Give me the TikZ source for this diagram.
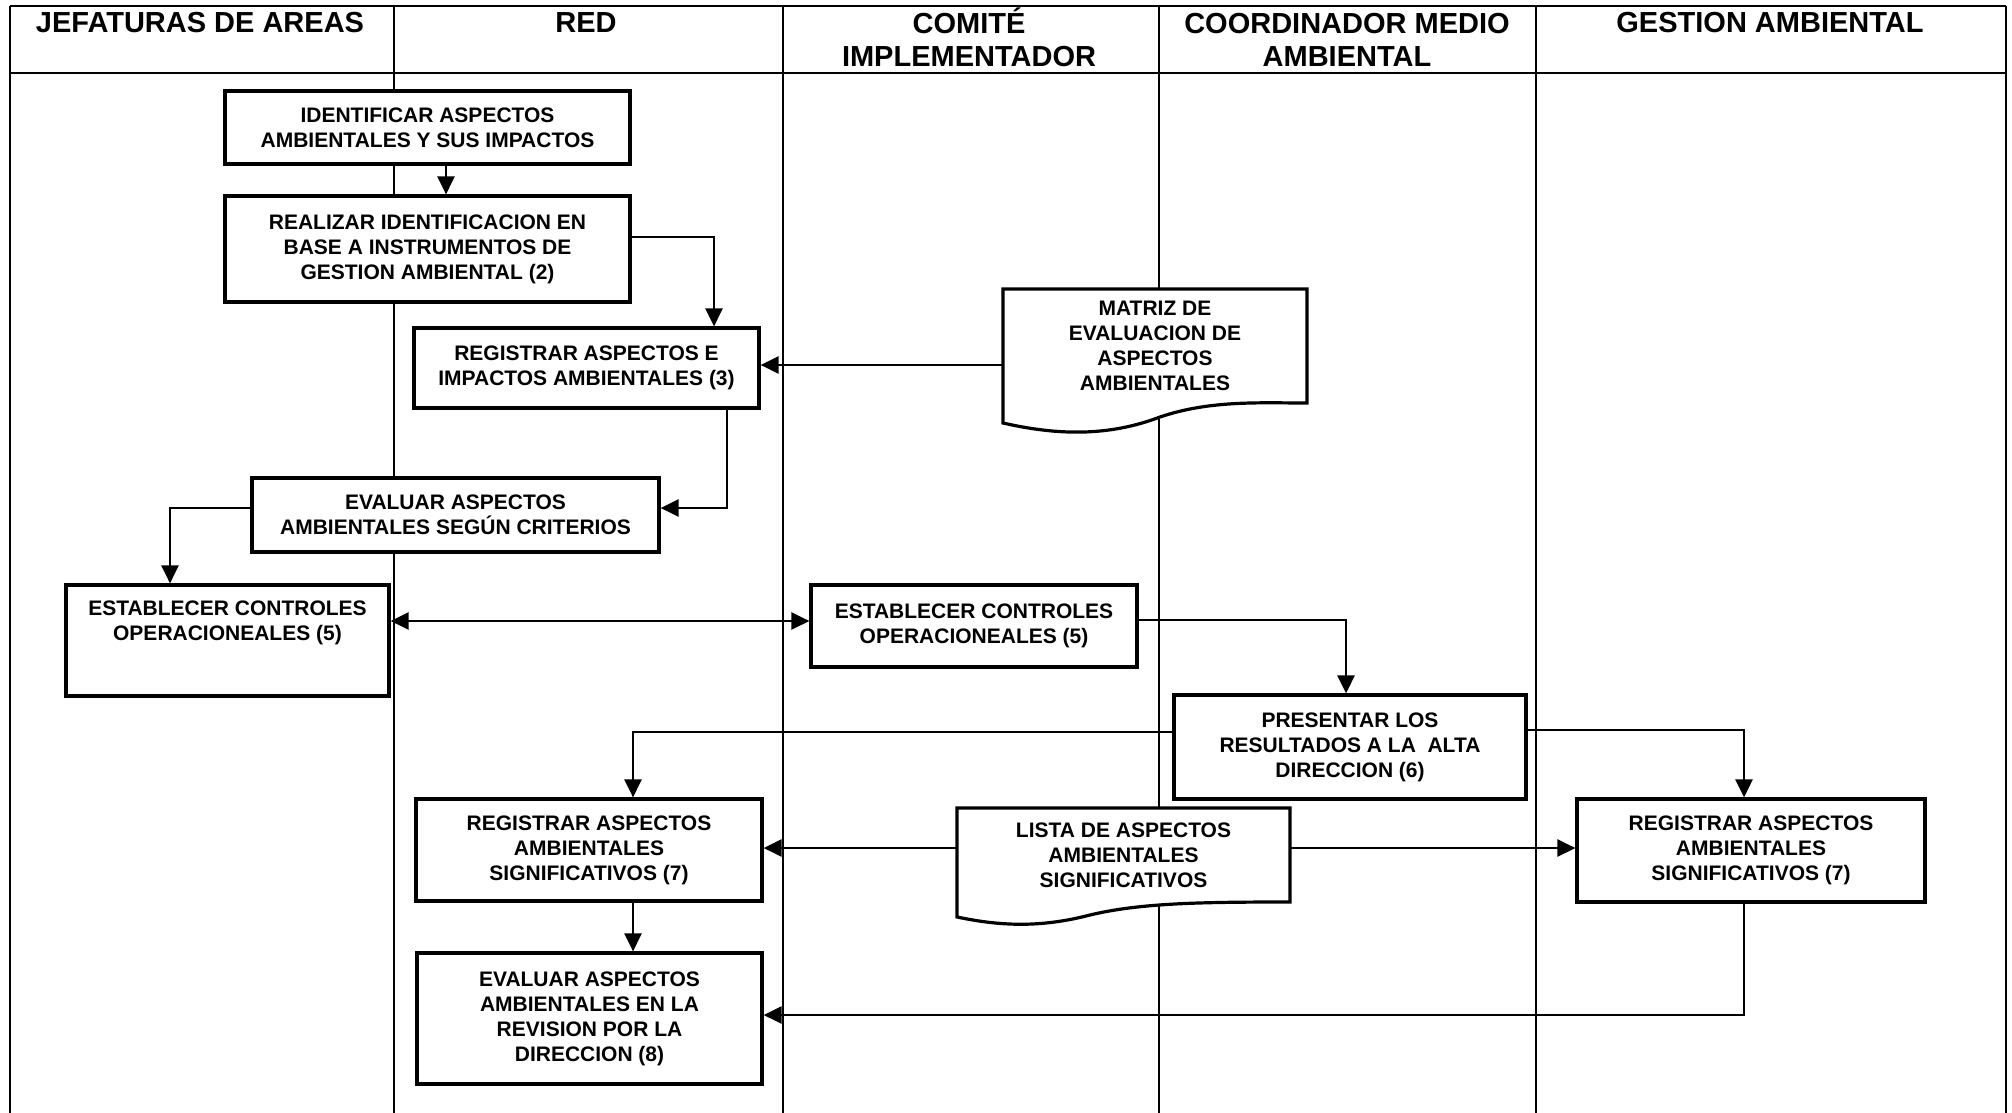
\documentclass[tikz,border=0pt]{standalone}
\usepackage{fontspec}
\setmainfont{Liberation Sans}
\newcommand\boxfont{\fontsize{21}{25}\selectfont\bfseries}
\newcommand\hdrfont{\fontsize{29}{33.3}\selectfont\bfseries}
\usetikzlibrary{arrows.meta,calc}
\begin{document}
\begin{tikzpicture}[x=1pt,y=-1pt,
  lane/.style={line width=1.7pt},
  rule/.style={line width=2.8pt},
  hdr/.style={font=\hdrfont, align=center, inner sep=0pt},
  proc/.style={draw, line width=3.2pt, fill=white, inner sep=0pt, align=center, font=\boxfont},
  doctxt/.style={inner sep=0pt, align=center, font=\boxfont},
  docshape/.style={draw, line width=3.2pt, fill=white},
  arr/.style={line width=2.7pt, -{Triangle[length=18pt,width=17pt]}},
  dbl/.style={line width=2.7pt, {Triangle[length=18pt,width=17pt]}-{Triangle[length=18pt,width=17pt]}},
]
\useasboundingbox (0,0) rectangle (2012,1113);

% swimlane grid
\draw[rule] (10,6) -- (2006,6);
\draw[rule] (10,73) -- (2006,73);
\foreach \lx in {10,394,783,1159,1536,2006}
  \draw[lane] (\lx,6) -- (\lx,1113);

% lane headings (anchored on the baseline of their last line)
\node[hdr, anchor=base] (h1) at (200,33) {JEFATURAS DE AREAS};
\node[hdr, anchor=base] (h2) at (586,33) {RED};
\node[hdr, anchor=base] (h3) at (969,66.7) {COMITÉ\\IMPLEMENTADOR};
\node[hdr, anchor=base] (h4) at (1347,66.7) {COORDINADOR MEDIO\\AMBIENTAL};
\node[hdr, anchor=base] (h5) at (1770,33) {GESTION AMBIENTAL};

% process boxes
\node[proc, minimum width=405pt, minimum height=73pt] (ident) at (427.5,127.5)
  {IDENTIFICAR ASPECTOS\\AMBIENTALES Y SUS IMPACTOS};
\node[proc, minimum width=405pt, minimum height=106pt] (realizar) at (427.5,249)
  {REALIZAR IDENTIFICACION EN\\BASE A INSTRUMENTOS DE\\GESTION AMBIENTAL (2)};
\node[proc, minimum width=345pt, minimum height=80pt] (reg3) at (586.5,368)
  {REGISTRAR ASPECTOS E\\IMPACTOS AMBIENTALES (3)};
\node[proc, minimum width=407pt, minimum height=74pt] (eval) at (455.5,515)
  {EVALUAR ASPECTOS\\AMBIENTALES SEGÚN CRITERIOS};
\node[proc, minimum width=323pt, minimum height=111pt] (est1) at (227.5,640.5) {};
\node[doctxt] (est1t) at (227.5,622.5) {ESTABLECER CONTROLES\\OPERACIONEALES (5)};
\node[proc, minimum width=326pt, minimum height=82pt] (est2) at (974,626)
  {ESTABLECER CONTROLES\\OPERACIONEALES (5)};
\node[proc, minimum width=352pt, minimum height=104pt] (pres) at (1350,747)
  {PRESENTAR LOS\\RESULTADOS A LA\ \ ALTA\\DIRECCION (6)};
\node[proc, minimum width=346pt, minimum height=102pt] (reg7a) at (589,850)
  {REGISTRAR ASPECTOS\\AMBIENTALES\\SIGNIFICATIVOS (7)};
\node[proc, minimum width=348pt, minimum height=103pt] (reg7b) at (1751,850.5)
  {REGISTRAR ASPECTOS\\AMBIENTALES\\SIGNIFICATIVOS (7)};
\node[proc, minimum width=345pt, minimum height=131pt] (eval8) at (589.5,1018.5)
  {EVALUAR ASPECTOS\\AMBIENTALES EN LA\\REVISION POR LA\\DIRECCION (8)};

% document symbols
\draw[docshape] (1003,289) -- (1307,289) -- (1307,403)
  .. controls (1260,403) and (1210,400) .. (1160,417)
  .. controls (1110,436) and (1060,436) .. (1003,423) -- cycle;
\node[doctxt, minimum width=304pt, minimum height=114pt] (matriz) at (1155,346)
  {MATRIZ DE\\EVALUACION DE\\ASPECTOS\\AMBIENTALES};
\draw[docshape] (957,808) -- (1290,808) -- (1290,902)
  .. controls (1200,902) and (1140,903) .. (1090,915)
  .. controls (1040,928) and (1000,926) .. (957,917) -- cycle;
\node[doctxt, minimum width=333pt, minimum height=94pt] (lista) at (1123.5,855)
  {LISTA DE ASPECTOS\\AMBIENTALES\\SIGNIFICATIVOS};

% routing points of the connectors
\coordinate (xa) at (446,0);
\coordinate (pb) at (714,237);
\coordinate (yc) at (0,365);
\coordinate (pd) at (727,508);
\coordinate (pe) at (170,508);
\coordinate (yf) at (0,621);
\coordinate (pg) at (1346,620);
\coordinate (ph) at (633,732);
\coordinate (pk) at (1744,730);
\coordinate (yj) at (0,848);
\coordinate (pm) at (1744,1015);

% connectors
\draw[arr] (ident.south -| xa) -- (realizar.north -| xa);
\draw[arr] (realizar.east |- pb) -| (reg3.north -| pb);
\draw[arr] (matriz.west |- yc) -- (reg3.east |- yc);
\draw[arr] (reg3.south -| pd) |- (eval.east |- pd);
\draw[arr] (eval.west |- pe) -| (est1.north -| pe);
\draw[dbl] (est1.east |- yf) -- (est2.west |- yf);
\draw[arr] (est2.east |- pg) -| (pres.north -| pg);
\draw[arr] (pres.west |- ph) -| (reg7a.north -| ph);
\draw[arr] (pres.east |- pk) -| (reg7b.north -| pk);
\draw[arr] (lista.west |- yj) -- (reg7a.east |- yj);
\draw[arr] (lista.east |- yj) -- (reg7b.west |- yj);
\draw[arr] (reg7a.south -| ph) -- (eval8.north -| ph);
\draw[arr] (reg7b.south -| pm) |- (eval8.east |- pm);
\end{tikzpicture}
\end{document}
